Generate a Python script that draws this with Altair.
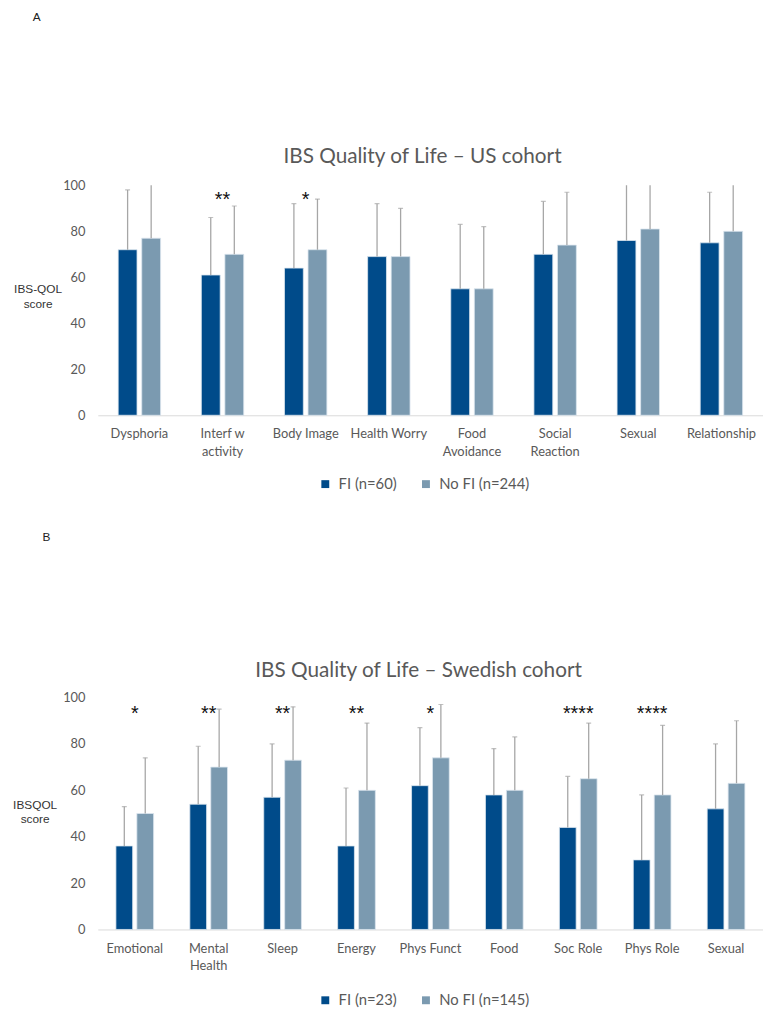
import altair as alt
import pandas as pd

# ---------------- data ----------------
cats_a = ["Dysphoria", "Interf w|activity", "Body Image", "Health Worry",
          "Food|Avoidance", "Social|Reaction", "Sexual", "Relationship"]
fi_a = [72, 61, 64, 69, 55, 70, 76, 75]
nofi_a = [77, 70, 72, 69, 55, 74, 81, 80]
fi_a_hi = [98, 86, 92, 92, 83, 93, 104, 97]
nofi_a_hi = [104, 91, 94, 90, 82, 97, 104, 104]
stars_a = ["", "**", "*", "", "", "", "", ""]
groups_a = ["FI (n=60)", "No FI (n=244)"]

cats_b = ["Emotional", "Mental|Health", "Sleep", "Energy", "Phys Funct",
          "Food", "Soc Role", "Phys Role", "Sexual"]
fi_b = [36, 54, 57, 36, 62, 58, 44, 30, 52]
nofi_b = [50, 70, 73, 60, 74, 60, 65, 58, 63]
fi_b_hi = [53, 79, 80, 61, 87, 78, 66, 58, 80]
nofi_b_hi = [74, 95, 96, 89, 97, 83, 89, 88, 90]
stars_b = ["*", "**", "**", "**", "*", "", "****", "****", ""]
groups_b = ["FI (n=23)", "No FI (n=145)"]

y_ticks = [0, 20, 40, 60, 80, 100]

DARK = "#004B8A"
LIGHT = "#7B9AB0"
GREY = "#595959"
ERR = "#A6A6A6"
FONT = "Lato"


def panel(cats, fi, nofi, fi_hi, nofi_hi, stars, groups, ytitle, letter, title,
          height, title_x, title_y, letter_x, letter_y, ytitle_x, ytitle_y,
          leg_x, leg_y, star_y):
    rows = []
    for c, v1, v2, h1, h2 in zip(cats, fi, nofi, fi_hi, nofi_hi):
        rows.append(dict(cat=c, group=groups[0], value=v1, hi=h1))
        rows.append(dict(cat=c, group=groups[1], value=v2, hi=h2))
    df = pd.DataFrame(rows)
    sdf = pd.DataFrame({"cat": cats, "star": stars})

    yscale = alt.Scale(domain=[0, 100], nice=False, zero=True)
    x = alt.X("cat:N", sort=cats,
              scale=alt.Scale(paddingInner=0.49, paddingOuter=0.245),
              axis=alt.Axis(title=None, labelAngle=0,
                            labelExpr="split(datum.label, '|')",
                            labelFont=FONT, labelFontSize=13, labelColor=GREY,
                            labelLineHeight=18, labelPadding=13,
                            ticks=False, domainColor="#D9D9D9",
                            domainWidth=1, grid=False))
    xo = alt.XOffset("group:N", sort=groups, scale=alt.Scale(paddingInner=0.2))
    y = alt.Y("value:Q", scale=yscale,
              axis=alt.Axis(title=ytitle, values=y_ticks, grid=False,
                            ticks=False, domain=False, labelPadding=13,
                            labelFont=FONT, labelFontSize=13,
                            labelColor=GREY,
                            titleAngle=0, titleX=ytitle_x, titleY=ytitle_y,
                            titleAlign="center", titleBaseline="top",
                            titleFont="Liberation Sans", titleFontSize=12,
                            titleFontWeight="normal", titleColor="#333333",
                            titleLineHeight=15))
    color = alt.Color("group:N", sort=groups,
                      scale=alt.Scale(domain=groups, range=[DARK, LIGHT]),
                      legend=alt.Legend(orient="none", legendX=leg_x,
                                        legendY=leg_y, direction="horizontal",
                                        title=None, symbolType="square",
                                        symbolSize=64, symbolStrokeWidth=0,
                                        labelFont=FONT, labelFontSize=15,
                                        labelColor=GREY, labelOffset=6,
                                        columnPadding=22, padding=0))

    bars = alt.Chart(df).mark_bar(stroke="#DCE6EF", strokeWidth=0.8).encode(
        x=x, xOffset=xo, y=y, color=color)
    err = alt.Chart(df).mark_rule(color=ERR, strokeWidth=1.3, clip=True).encode(
        x=x, xOffset=xo, y=alt.Y("value:Q", scale=yscale), y2="hi:Q")
    caps = alt.Chart(df).mark_tick(color=ERR, size=5, thickness=1.2,
                                   clip=True).encode(
        x=x, xOffset=xo, y=alt.Y("hi:Q", scale=yscale))
    star = alt.Chart(sdf).mark_text(font="Liberation Sans", fontSize=20,
                                    color="#111111", baseline="alphabetic",
                                    align="center").encode(
        x=x, y=alt.Y(datum=star_y, scale=yscale), text="star:N")
    ttl = alt.Chart(pd.DataFrame({"t": [title]})).mark_text(
        font=FONT, fontSize=21, color=GREY, align="center",
        baseline="middle").encode(
        x=alt.value(title_x), y=alt.value(title_y), text="t:N")
    let = alt.Chart(pd.DataFrame({"t": [letter]})).mark_text(
        font="Liberation Sans", fontSize=12, color="#222222", align="center",
        baseline="middle").encode(
        x=alt.value(letter_x), y=alt.value(letter_y), text="t:N")

    return alt.layer(bars, err, caps, star, ttl, let).properties(
        width=674, height=height)


chart_a = panel(cats_a, fi_a, nofi_a, fi_a_hi, nofi_a_hi, stars_a, groups_a,
                ["IBS-QOL", "score"], "A", "IBS Quality of Life \u2013 US cohort",
                233, 329, -29, -62, -171, -61, 100, 223, 295, 91)
chart_b = panel(cats_b, fi_b, nofi_b, fi_b_hi, nofi_b_hi, stars_b, groups_b,
                ["IBSQOL", "score"], "B", "IBS Quality of Life \u2013 Swedish cohort",
                235, 325, -27, -52, -163, -64, 103, 223, 299, 90.5)

chart = alt.vconcat(chart_a, chart_b, spacing=39).resolve_scale(
    x="independent", y="independent", color="independent",
    xOffset="independent").resolve_legend(color="independent").configure_view(
    stroke=None).properties(padding={"left": 4, "top": -4, "right": 0, "bottom": 0})

chart.save("out.html", embed_options={"renderer": "svg", "actions": False})
